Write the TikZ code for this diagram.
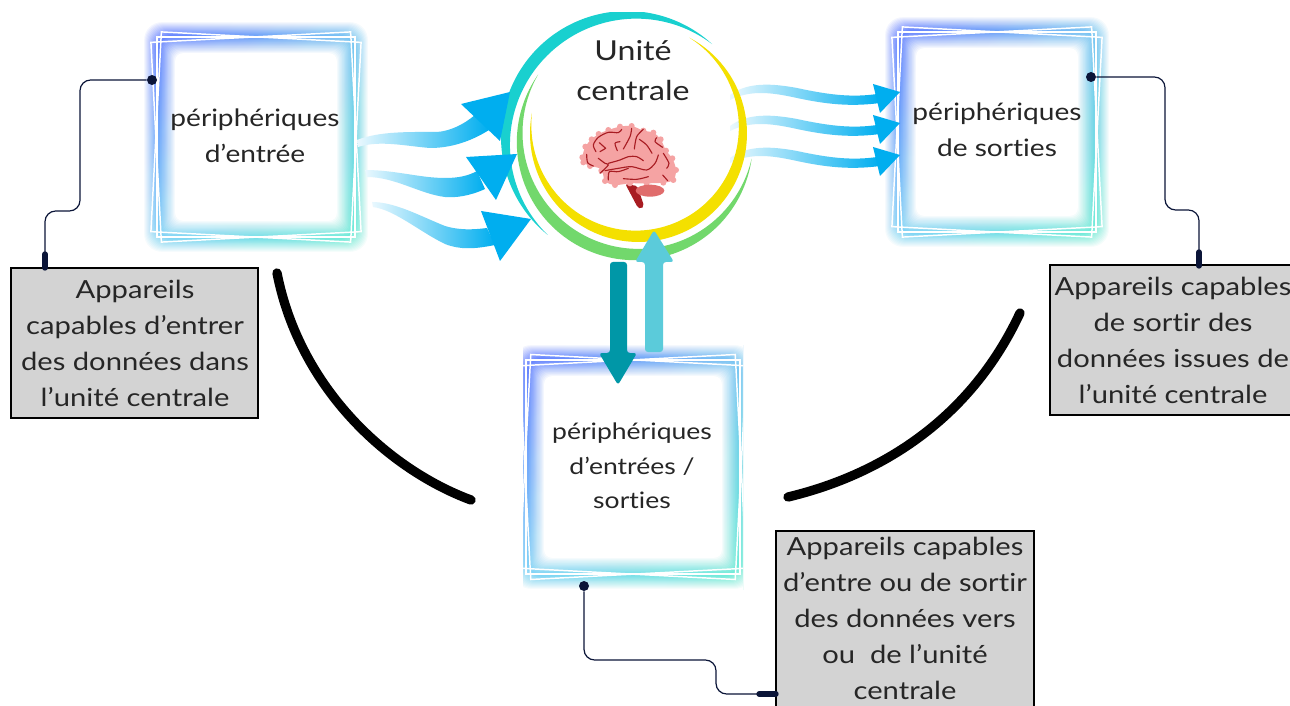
\documentclass[tikz,border=0pt]{standalone}
\usepackage{fontspec}
\setmainfont{Lato}[FakeStretch=1.17,Ligatures=NoCommon]
\usetikzlibrary{calc,shadings}
\definecolor{gbg}{HTML}{D3D3D3}
\definecolor{navy}{HTML}{0B1538}
\definecolor{cy}{HTML}{00AEEF}
\definecolor{cymid}{HTML}{6CCFF6}
\definecolor{cylt}{HTML}{EAF8FE}
\definecolor{tealc}{HTML}{19D0CF}
\definecolor{yel}{HTML}{F4E000}
\definecolor{grn}{HTML}{72D86C}
\definecolor{darkt}{HTML}{0097A7}
\definecolor{lightt}{HTML}{5BCBDA}
\definecolor{gTL}{HTML}{6478FF}
\definecolor{gTR}{HTML}{7CC8F4}
\definecolor{gBL}{HTML}{85D8F8}
\definecolor{gBR}{HTML}{70F0D4}
\definecolor{brainp}{HTML}{F5A3A3}
\definecolor{brainc}{HTML}{E06C6C}
\definecolor{brainr}{HTML}{A81C22}
\tikzset{
  x=0.75pt,y=-0.75pt,
  graybox/.style={draw=black,line width=1.6pt,fill=gbg,inner sep=0pt,outer sep=0pt},
  lbl/.style={font=\fontsize{18.7}{27}\selectfont,align=center,text=black!85,inner sep=0pt},
  frtxt/.style={font=\fontsize{18}{27}\selectfont,align=center,text=black!85,inner sep=0pt},
  frtxts/.style={font=\fontsize{17}{25.7}\selectfont,align=center,text=black!85,inner sep=0pt},
  cpu/.style={font=\fontsize{20.6}{30}\selectfont,align=center,text=black!85,inner sep=0pt},
  wire/.style={draw=navy,line width=0.9pt,rounded corners=8pt},
  wireend/.style={draw=navy,line width=4pt,line cap=round},
  dot/.style={circle,fill=navy,minimum size=7.5pt,inner sep=0pt},
  bigarc/.style={draw=black,line width=7pt,line cap=round},
  band/.style={left color=cylt,middle color=cymid,right color=cy,draw=none},
  sulcus/.style={draw=brainr,line width=0.85pt,line cap=round,line join=round},
  whiteln/.style={draw=white,line width=1.1pt}
}
\newcommand{\glowframe}[5]{%
 \begin{scope}[shift={(#1,#2)}]
  \shade[upper left=gTL,upper right=gTR,lower left=gBL,lower right=gBR] (-#3,-#4) rectangle (#3,#4);
  \foreach \k [evaluate=\k as \op using {1/(15-\k)}] in {1,...,14}{
    \fill[white,opacity=\op,even odd rule]
      ({-#3-1},{-#4-1}) rectangle ({#3+1},{#4+1})
      [rounded corners=13pt] ({-#3+13.5-\k*.95},{-#4+13.5-\k*.95}) rectangle ({#3-13.5+\k*.95},{#4-13.5+\k*.95});
  }
  \foreach \k [evaluate=\k as \op using {1/(15-\k)}] in {1,...,14}{
    \fill[white,opacity=\op,rounded corners=6pt]
      ({-#3+15+\k*1.15},{-#4+15+\k*1.15}) rectangle ({#3-15-\k*1.15},{#4-15-\k*1.15});
  }
  \draw[whiteln,rotate=#5] ({-#3+12},{-#4+15}) rectangle ({#3-12},{#4-15});
  \draw[whiteln,rotate=-#5] ({-#3+12},{-#4+15}) rectangle ({#3-12},{#4-15});
  \draw[whiteln] ({-#3+13},{-#4+15}) rectangle ({#3-13},{#4-15});
 \end{scope}}
\newcommand{\crescent}[7]{%
 \fill[#1] plot[domain=#5:#6,samples=60,smooth] ({#2+#4*cos(\x)},{#3+#4*sin(\x)})
   -- plot[domain=#6:#5,samples=60,smooth] ({#2+(#4-#7*sin((\x-(#5))/((#6)-(#5))*180))*cos(\x)},{#3+(#4-#7*sin((\x-(#5))/((#6)-(#5))*180))*sin(\x)}) -- cycle;}
\begin{document}
\begin{tikzpicture}
\useasboundingbox (0,0) rectangle (1290,706);
\clip (0,0) rectangle (1290,706);
\fill[white] (0,0) rectangle (1290,706);
% frames
\glowframe{256}{137}{112}{115}{3}
\glowframe{997}{132}{112}{115}{3}
\begin{scope}
 \clip (523,330) rectangle (743,610);
 \glowframe{633}{467}{120}{122}{3}
\end{scope}
% output arrows
\foreach \dy in {0,31,63}{
 \begin{scope}[yshift={-0.75pt*\dy}]
  \shade[band] (730,95) .. controls (745,84) and (765,82) .. (797,88) .. controls (825,94) and (850,98) .. (877,94)
     -- (880,103) .. controls (850,107) and (825,104) .. (797,98) .. controls (770,92) and (750,90) .. (730,100) -- cycle;
  \fill[cy] (873,84) -- (900,92) -- (880,113) -- cycle;
 \end{scope}}
% circle
\begin{scope}
 \clip (480,13) rectangle (780,270);
 \crescent{tealc}{627}{137}{126}{-231}{-47.5}{12}
\end{scope}
\crescent{grn}{634.8}{142.2}{118}{8}{215}{12}
\crescent{yel}{638.5}{133.5}{108.5}{-62}{191}{12}
% input arrows
\shade[band] (357,140) .. controls (380,131) and (410,132) .. (437,132) .. controls (450,131) and (463,125) .. (475,115)
   -- (489,130) .. controls (470,142) and (450,148) .. (430,148) .. controls (405,146) and (380,140) .. (358,147) -- cycle;
\fill[cy] (461,104) -- (510,92) -- (500,141) -- cycle;
\shade[band] (365,170) .. controls (395,170) and (420,178) .. (445,178) .. controls (458,178) and (468,176) .. (477,171)
   -- (485,189) .. controls (470,196) and (455,198) .. (445,197) .. controls (420,194) and (395,177) .. (367,177) -- cycle;
\fill[cy] (466,157) -- (517,154) -- (496,200) -- cycle;
\shade[band] (372,202) .. controls (395,202) and (420,216) .. (445,226) .. controls (458,230) and (472,230) .. (487,228)
   -- (495,245) .. controls (475,249) and (460,250) .. (445,244) .. controls (420,232) and (395,210) .. (373,207) -- cycle;
\fill[cy] (481,211) -- (531,219) -- (500,261) -- cycle;
% thick arrows
\fill[darkt,rounded corners=2.2pt] (610,262) -- (627,262) -- (627,353) -- (637,353) -- (618,385) -- (599,353) -- (610,353) -- cycle;
\fill[lightt,rounded corners=2.2pt] (645,352) -- (663,352) -- (663,262) -- (674,262) -- (654,230) -- (635,262) -- (645,262) -- cycle;
% brain
\begin{scope}[shift={(540,100)},x=0.25pt,y=-0.25pt]
 \fill[brainr,rounded corners=1.5pt] (256,252) -- (292,258) -- (312,318) -- (303,327) -- (293,322) -- cycle;
 \fill[brainp] plot[smooth cycle,tension=.55] coordinates {(127,172) (136,140) (155,118) (176,102) (205,90) (240,80) (275,78) (310,92) (340,98) (362,118) (378,152) (397,175) (408,210) (400,240) (370,248) (320,250) (270,250) (225,255) (195,243) (184,208) (150,198) (130,187)};
 \foreach \px/\py in {127/172,136/140,155/118,176/102,205/90,240/80,275/78,310/92,340/98,362/118,378/152,397/175,408/210,400/240,370/248,320/250,270/250,225/255,195/243,184/212,150/198,130/187}
   \fill[brainp] (\px,\py) circle (9);
 \fill[brainc] (330,272) ellipse (43 and 18);
 \draw[sulcus] plot[smooth] coordinates {(245,88) (235,98) (205,97) (175,112) (160,135) (168,155)};
 \draw[sulcus] (178,128) -- (197,145) -- (180,155);
 \draw[sulcus] plot[smooth] coordinates {(275,85) (270,110) (250,147)};
 \draw[sulcus] plot[smooth] coordinates {(310,88) (290,110) (283,147)};
 \draw[sulcus] plot[smooth] coordinates {(240,125) (225,130) (232,152)};
 \draw[sulcus] plot[smooth] coordinates {(350,113) (345,125) (368,142)};
 \draw[sulcus] plot[smooth] coordinates {(298,118) (320,135) (336,160)};
 \draw[sulcus] plot[smooth] coordinates {(140,163) (143,188) (160,198)};
 \draw[sulcus] plot[smooth] coordinates {(175,175) (195,190) (205,195) (180,220)};
 \draw[sulcus] plot[smooth] coordinates {(205,190) (240,180) (265,170) (290,170) (310,182)};
 \draw[sulcus] plot[smooth] coordinates {(195,212) (235,205) (275,200) (320,210) (345,190) (355,165)};
 \draw[sulcus] plot[smooth] coordinates {(205,240) (208,215) (235,215) (265,205)};
 \draw[sulcus] plot[smooth] coordinates {(250,236) (290,238) (325,230)};
 \draw[sulcus] plot[smooth] coordinates {(370,160) (387,190) (380,205)};
 \draw[sulcus] plot[smooth] coordinates {(368,225) (383,242)};
\end{scope}
% big arcs
\coordinate (a1s) at (277,273); \coordinate (a1e) at (471,500);
\coordinate (a2s) at (1020,313); \coordinate (a2e) at (788,497);
\draw[bigarc] (a1s) .. controls (300,390) and (390,470) .. (a1e);
\draw[bigarc] (a2s) .. controls (970,420) and (880,475) .. (a2e);
% gray boxes
\node[graybox,minimum width=185pt,minimum height=112.5pt] (b1) at (134.5,343) {};
\node[graybox,minimum width=190pt,minimum height=112.5pt] (b2) at (1177,340) {};
\node[graybox,minimum width=193.5pt,minimum height=142pt] (b3) at (905,626) {};
\node[lbl] (t1) at (135,343) {Appareils\\capables d’entrer\\des données dans\\l’unité centrale};
\node[lbl] (t2) at (1173,340.5) {Appareils capables\\de sortir des\\données issues de\\l’unité centrale};
\node[lbl] (t3) at (905,618) {Appareils capables\\d’entre ou de sortir\\des données vers\\ou\ \ de l’unité\\centrale};
% frame and cpu text
\node[frtxt] (f1) at (255,136) {périphériques\\d’entrée};
\node[frtxt] (f2) at (997,130) {périphériques\\de sorties};
\node[frtxts] (f3) at (632,466) {périphériques\\d’entrées /\\sorties};
\node[cpu] (uc) at (633,71) {Unité\\centrale};
% connectors
\node[dot] (d1) at (152,80) {};
\node[dot] (d2) at (1091,77) {};
\node[dot] (d3) at (584,586) {};
\coordinate (e1) at (45,268); \coordinate (e2) at (1199,266); \coordinate (e3) at (776,694);
\draw[wire] (d1) -- (80,80) -- (80,211) -- (45,211) -- (e1);
\draw[wire] (d2) -- (1165,77) -- (1165,210) -- (1199,210) -- (e2);
\draw[wire] (d3) -- (584,660) -- (716,660) -- (716,694) -- (e3);
\draw[wireend] (45,254) -- (e1);
\draw[wireend] (1199,252) -- (e2);
\draw[wireend] (759,694) -- (e3);
\end{tikzpicture}
\end{document}
